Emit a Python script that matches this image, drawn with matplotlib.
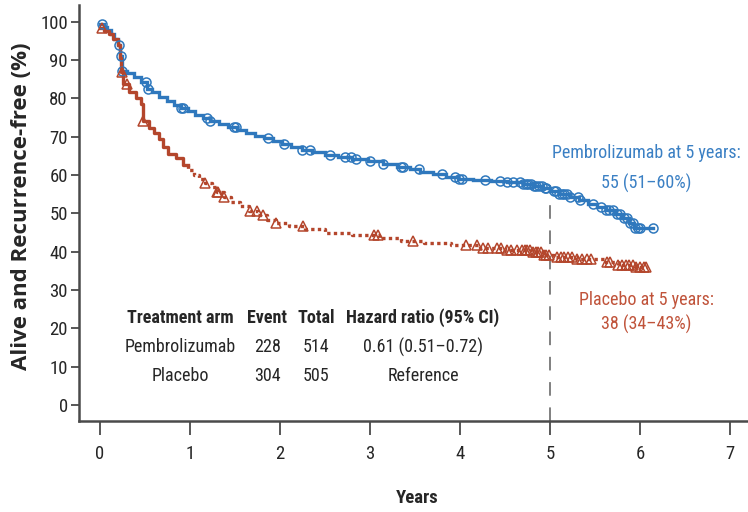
import numpy as np
import matplotlib
matplotlib.use("Agg")
import matplotlib.pyplot as plt
from matplotlib import font_manager

# ---- data -------------------------------------------------------------
years_ticks = [0, 1, 2, 3, 4, 5, 6, 7]
pct_ticks = [0, 10, 20, 30, 40, 50, 60, 70, 80, 90, 100]

# Pembrolizumab: event times (years) and survival (%) just after each step
pem_times = [0.00, 0.04, 0.08, 0.12, 0.16, 0.20, 0.225, 0.24, 0.30, 0.38, 0.46, 0.52,
             0.58, 0.66, 0.74, 0.82, 0.90, 0.98, 1.06, 1.14, 1.22, 1.32, 1.42, 1.52,
             1.62, 1.72, 1.82, 1.92, 2.02, 2.12, 2.24, 2.36, 2.50, 2.64, 2.80, 2.98,
             3.14, 3.30, 3.44, 3.56, 3.70, 3.84, 3.98, 4.14, 4.34, 4.52, 4.70, 4.82,
             4.92, 5.00, 5.10, 5.22, 5.32, 5.42, 5.52, 5.62, 5.72, 5.80, 5.88, 5.93]
pem_surv = [99.5, 98.6, 97.8, 96.8, 95.5, 94.0, 91.0, 87.2, 86.6, 85.6, 84.2, 82.6,
            81.6, 80.5, 79.4, 78.4, 77.4, 76.6, 75.8, 75.0, 74.2, 73.4, 72.6, 71.8,
            71.0, 70.3, 69.6, 68.9, 68.0, 67.4, 66.6, 66.0, 65.3, 64.6, 64.1, 63.6,
            62.9, 62.2, 61.5, 60.9, 60.2, 59.6, 59.0, 58.7, 58.5, 58.2, 57.8, 57.2,
            56.5, 55.8, 55.0, 54.2, 53.4, 52.4, 51.6, 50.8, 49.8, 48.7, 47.4, 46.1]
pem_end = 6.15
pem_censored = [0.02, 0.21, 0.23, 0.24, 0.51, 0.53, 0.90, 0.92, 1.19, 1.22, 1.49, 1.51,
                1.87, 2.04, 2.24, 2.33, 2.56, 2.72, 2.79, 2.85, 3.00, 3.15, 3.35, 3.37,
                3.54, 3.80, 3.94, 3.99, 4.02, 4.28, 4.44, 4.52, 4.59, 4.67, 4.70, 4.73,
                4.76, 4.79, 4.82, 4.85, 4.88, 4.91, 4.94, 4.96, 5.04, 5.07, 5.10, 5.13,
                5.16, 5.19, 5.22, 5.31, 5.33, 5.48, 5.57, 5.62, 5.66, 5.70, 5.74, 5.78,
                5.82, 5.86, 5.89, 5.92, 5.95, 5.98, 6.00, 6.15]

# Placebo
plc_times = [0.00, 0.05, 0.10, 0.15, 0.20, 0.22, 0.235, 0.26, 0.32, 0.40, 0.46, 0.48,
             0.54, 0.60, 0.66, 0.70, 0.76, 0.84, 0.92, 0.98, 1.04, 1.10, 1.17, 1.24,
             1.30, 1.38, 1.46, 1.56, 1.66, 1.76, 1.86, 1.96, 2.10, 2.28, 2.50, 2.80,
             3.10, 3.35, 3.60, 3.90, 4.20, 4.50, 4.80, 4.92, 5.05, 5.30, 5.60, 5.76,
             5.95]
plc_surv = [98.5, 97.6, 96.8, 95.6, 94.0, 90.5, 86.8, 83.8, 81.8, 80.2, 78.5, 74.0,
            72.4, 71.0, 69.4, 67.2, 65.4, 64.4, 62.6, 61.2, 60.0, 59.0, 58.0, 56.8,
            55.6, 54.2, 53.0, 51.8, 50.6, 49.6, 48.4, 47.4, 46.6, 45.8, 45.0, 44.3,
            43.6, 42.8, 42.2, 41.7, 41.0, 40.4, 40.0, 39.2, 38.6, 38.0, 37.4, 36.6,
            36.1]
plc_end = 6.08
plc_censored = [0.02, 0.24, 0.30, 0.48, 1.17, 1.30, 1.31, 1.38, 1.67, 1.74, 1.81, 1.96,
                2.26, 3.04, 3.09, 3.48, 4.07, 4.19, 4.26, 4.31, 4.41, 4.46, 4.52, 4.57,
                4.63, 4.69, 4.72, 4.75, 4.78, 4.81, 4.84, 4.87, 4.90, 4.93, 4.96, 4.99,
                5.08, 5.12, 5.16, 5.20, 5.25, 5.30, 5.36, 5.41, 5.46, 5.63, 5.67, 5.76,
                5.80, 5.84, 5.88, 5.92, 5.96, 6.00, 6.04, 6.07]

landmark_year = 5
pem_landmark_text = ["Pembrolizumab at 5 years:", "55 (51\u201360%)"]
plc_landmark_text = ["Placebo at 5 years:", "38 (34\u201343%)"]

table_header = ["Treatment arm", "Event", "Total", "Hazard ratio (95% CI)"]
table_rows = [["Pembrolizumab", "228", "514", "0.61 (0.51\u20130.72)"],
              ["Placebo", "304", "505", "Reference"]]

# ---- styling ----------------------------------------------------------
BLUE = "#2f78bd"
RED = "#b4462c"
BLUE_TXT = "#3b80c4"
RED_TXT = "#c0533a"
INK = "#262626"
AXIS = "#4a4a4a"


def pick_condensed():
    names = {f.name for f in font_manager.fontManager.ttflist}
    for cand in ["Liberation Sans Narrow", "Roboto Condensed", "Open Sans Condensed",
                 "Noto Sans Condensed"]:
        if cand in names:
            return dict(family=cand)
    for f in font_manager.fontManager.ttflist:
        if f.name == "DejaVu Sans" and str(f.stretch) in ("condensed", "semi-condensed"):
            return dict(family="DejaVu Sans", stretch="condensed")
    return dict(family="DejaVu Sans")


COND = pick_condensed()


def step_xy(times, surv, end):
    t = np.asarray(times, float)
    s = np.asarray(surv, float)
    x = np.append(np.repeat(t, 2)[1:], end)
    y = np.repeat(s, 2)
    return x, y


def surv_at(times, surv, t):
    idx = np.searchsorted(np.asarray(times), np.asarray(t), side="right") - 1
    return np.asarray(surv)[np.clip(idx, 0, len(surv) - 1)]


fig = plt.figure(figsize=(7.48, 5.12), dpi=100)
ax = fig.add_axes([79 / 748, 1 - 421 / 512, 1 - 79 / 748, 416 / 512])
ax.set_xlim(-0.233, 7.2)
ax.set_ylim(-4.2, 104.4)

# Pembrolizumab curve
x, y = step_xy(pem_times, pem_surv, pem_end)
ax.plot(x, y, color=BLUE, lw=2.4, solid_joinstyle="miter", zorder=3)
ax.plot(pem_censored, surv_at(pem_times, pem_surv, pem_censored), ls="none",
        marker="o", ms=6.5, mfc="none", mec=BLUE, mew=1.1, zorder=4)

# Placebo curve: solid early segment, dotted afterwards
split = 0.92
x, y = step_xy(plc_times, plc_surv, plc_end)
early = x <= split
k = np.argmax(~early)
ax.plot(x[:k + 1], y[:k + 1], color=RED, lw=2.4, zorder=3)
ax.plot(x[k:], y[k:], color=RED, lw=2.4, ls=(0, (1.0, 1.0)), zorder=3)
ax.plot(plc_censored, surv_at(plc_times, plc_surv, plc_censored), ls="none",
        marker="^", ms=6.5, mfc="none", mec=RED, mew=1.1, zorder=4)

# 5-year landmark
ax.plot([landmark_year, landmark_year], [ax.get_ylim()[0], 57.5], color="#808080",
        lw=1.4, ls=(0, (7, 6)), zorder=2)

txt = dict(ha="center", va="center", fontsize=13, **COND)
ax.text(6.07, 65.8, pem_landmark_text[0], color=BLUE_TXT, **txt)
ax.text(6.07, 57.8, pem_landmark_text[1], color=BLUE_TXT, **txt)
ax.text(6.07, 27.3, plc_landmark_text[0], color=RED_TXT, **txt)
ax.text(6.07, 21.1, plc_landmark_text[1], color=RED_TXT, **txt)

# Summary table
col_x = [0.89, 1.86, 2.40, 3.59]
row_y = [22.7, 15.1, 7.6]
for cx, h in zip(col_x, table_header):
    ax.text(cx, row_y[0], h, ha="center", va="center", fontsize=13,
            fontweight="bold", color=INK, **COND)
for ry, row in zip(row_y[1:], table_rows):
    for cx, v in zip(col_x, row):
        ax.text(cx, ry, v, ha="center", va="center", fontsize=13, color=INK, **COND)

# Axes
for side in ("top", "right"):
    ax.spines[side].set_visible(False)
for side in ("left", "bottom"):
    ax.spines[side].set_color(AXIS)
    ax.spines[side].set_linewidth(1.8)
ax.set_xticks(years_ticks)
ax.set_yticks(pct_ticks)
ax.tick_params(axis="x", length=10, width=1.3, color=AXIS, pad=7, labelsize=13.5,
               labelcolor=INK)
ax.tick_params(axis="y", length=6, width=1.3, color=AXIS, pad=2, labelsize=13.5,
               labelcolor=INK)
for lab in ax.get_xticklabels() + ax.get_yticklabels():
    lab.set_family(COND["family"])
    if "stretch" in COND:
        lab.set_stretch(COND["stretch"])

fig.text(417 / 748, 1 - 498 / 512, "Years", ha="center", va="center", fontsize=13.5,
         fontweight="bold", color=INK, **COND)
fig.text(22 / 748, 1 - 206 / 512, "Alive and Recurrence-free (%)", rotation=90,
         ha="center", va="center", fontsize=16, fontweight="bold", color=INK,
         family=["Open Sans", "Liberation Sans"])

fig.savefig("out.png", dpi=100)
